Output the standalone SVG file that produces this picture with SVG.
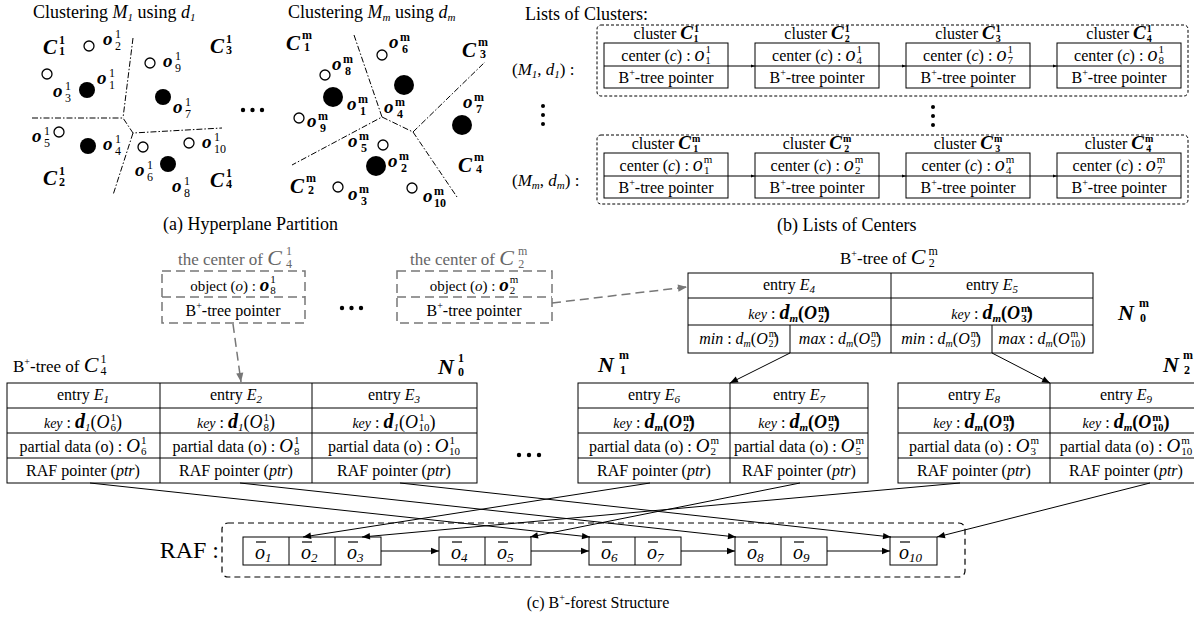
<svg xmlns="http://www.w3.org/2000/svg" width="1194" height="618" viewBox="0 0 1194 618">
<defs>
<marker id="ah" viewBox="0 0 10 10" refX="10" refY="5" markerWidth="9" markerHeight="8" markerUnits="userSpaceOnUse" orient="auto"><path d="M0,1 L10,5 L0,9 z" fill="#000"/></marker>
<marker id="ahs" viewBox="0 0 10 10" refX="10" refY="5" markerWidth="5" markerHeight="4" markerUnits="userSpaceOnUse" orient="auto"><path d="M0,1 L10,5 L0,9 z" fill="#000"/></marker>
<marker id="ahg" viewBox="0 0 10 10" refX="10" refY="5" markerWidth="10" markerHeight="9" markerUnits="userSpaceOnUse" orient="auto"><path d="M0,1 L10,5 L0,9 z" fill="#777"/></marker>
</defs>
<style>
text{font-family:"Liberation Serif","Times New Roman",serif;fill:#000}
.dd{fill:none;stroke:#000;stroke-width:1;stroke-dasharray:6 2 1.5 2}
.ob{font-size:19px;font-weight:bold;font-style:italic}
.sp{font-size:12px}
.spb{font-size:12px;font-weight:bold}
.cl{font-size:21px;font-weight:bold;font-style:italic}
.oc{fill:#fff;stroke:#000;stroke-width:1.3}
.fc{fill:#000}
.box{fill:#fff;stroke:#000;stroke-width:1}
.ln{stroke:#000;stroke-width:1;fill:none}
.db{fill:none;stroke:#000;stroke-width:1;stroke-dasharray:3 2}
.gb{fill:none;stroke:#777;stroke-width:1.5;stroke-dasharray:9 5}
.g{fill:#666}
.it{font-style:italic}
.bi{font-style:italic;font-weight:bold}
.t16{font-size:16px}
.mid{text-anchor:middle}
</style>

<!-- ===== (a) Hyperplane partition ===== -->
<g id="clusteringM1">
<text x="33" y="18" font-size="18">Clustering <tspan class="it">M</tspan><tspan class="it" font-size="11" dy="3">1</tspan><tspan dy="-3"> using </tspan><tspan class="it">d</tspan><tspan class="it" font-size="11" dy="3">1</tspan></text>
<polyline class="dd" points="133,38 123,118"/>
<polyline class="dd" points="32,118 123,118 133,133 222,128"/>
<polyline class="dd" points="133,133 113,195"/>
<circle class="oc" cx="89" cy="46" r="5"/>
<circle class="oc" cx="47" cy="74" r="5"/>
<circle class="oc" cx="150" cy="63" r="5"/>
<circle class="oc" cx="59" cy="132" r="5"/>
<circle class="oc" cx="143" cy="147" r="5"/>
<circle class="oc" cx="189" cy="143" r="5"/>
<circle class="fc" cx="87" cy="90" r="8"/>
<circle class="fc" cx="163" cy="97" r="8"/>
<circle class="fc" cx="88" cy="146" r="8"/>
<circle class="fc" cx="168" cy="164" r="8"/>
<text class="cl" x="43" y="54">C</text><text class="spb" x="59" y="44">1</text><text class="spb" x="59" y="55">1</text>
<text class="cl" x="43" y="185">C</text><text class="spb" x="59" y="175">1</text><text class="spb" x="59" y="186">2</text>
<text class="cl" x="210" y="53">C</text><text class="spb" x="226" y="43">1</text><text class="spb" x="226" y="54">3</text>
<text class="cl" x="210" y="187">C</text><text class="spb" x="226" y="177">1</text><text class="spb" x="226" y="188">4</text>
<text class="ob" x="103" y="45">o</text><text class="sp" x="115" y="38">1</text><text class="sp" x="115" y="50">2</text>
<text class="ob" x="53" y="97">o</text><text class="sp" x="65" y="90">1</text><text class="sp" x="65" y="102">3</text>
<text class="ob" x="97" y="84">o</text><text class="sp" x="109" y="77">1</text><text class="sp" x="109" y="89">1</text>
<text class="ob" x="163" y="67">o</text><text class="sp" x="175" y="60">1</text><text class="sp" x="175" y="72">9</text>
<text class="ob" x="173" y="113">o</text><text class="sp" x="185" y="106">1</text><text class="sp" x="185" y="118">7</text>
<text class="ob" x="32" y="142">o</text><text class="sp" x="44" y="135">1</text><text class="sp" x="44" y="147">5</text>
<text class="ob" x="103" y="150">o</text><text class="sp" x="115" y="143">1</text><text class="sp" x="115" y="155">4</text>
<text class="ob" x="135" y="176">o</text><text class="sp" x="147" y="169">1</text><text class="sp" x="147" y="181">6</text>
<text class="ob" x="172" y="192">o</text><text class="sp" x="184" y="185">1</text><text class="sp" x="184" y="197">8</text>
<text class="ob" x="202" y="148">o</text><text class="sp" x="214" y="141">1</text><text class="sp" x="214" y="153">10</text>
</g>
<g id="dotsA"><circle cx="243" cy="110" r="2.2"/><circle cx="252.5" cy="110" r="2.2"/><circle cx="262" cy="110" r="2.2"/></g>
<g id="clusteringMm">
<text x="288" y="18" font-size="18">Clustering <tspan class="it">M</tspan><tspan class="it" font-size="11" dy="3">m</tspan><tspan dy="-3"> using </tspan><tspan class="it">d</tspan><tspan class="it" font-size="11" dy="3">m</tspan></text>
<polyline class="dd" points="354,35 382,117 292,165"/>
<polyline class="dd" points="382,117 413,132 485,62"/>
<polyline class="dd" points="413,132 457,197"/>
<circle class="oc" cx="325" cy="75" r="5"/>
<circle class="oc" cx="299" cy="118" r="5"/>
<circle class="oc" cx="382" cy="55" r="5"/>
<circle class="oc" cx="383" cy="145" r="5"/>
<circle class="oc" cx="338" cy="187" r="5"/>
<circle class="oc" cx="412" cy="188" r="5"/>
<circle class="fc" cx="333" cy="97" r="10"/>
<circle class="fc" cx="404" cy="85" r="10"/>
<circle class="fc" cx="462" cy="125" r="10"/>
<circle class="fc" cx="376" cy="166" r="10"/>
<text class="cl" x="286" y="50">C</text><text class="spb" x="302" y="39">m</text><text class="spb" x="304" y="51">1</text>
<text class="cl" x="290" y="193">C</text><text class="spb" x="306" y="182">m</text><text class="spb" x="308" y="194">2</text>
<text class="cl" x="462" y="57">C</text><text class="spb" x="478" y="46">m</text><text class="spb" x="480" y="58">3</text>
<text class="cl" x="458" y="172">C</text><text class="spb" x="474" y="161">m</text><text class="spb" x="476" y="173">4</text>
<text class="ob" x="389" y="48">o</text><text class="spb" x="400" y="41">m</text><text class="spb" x="402" y="53">6</text>
<text class="ob" x="332" y="70">o</text><text class="spb" x="343" y="63">m</text><text class="spb" x="345" y="75">8</text>
<text class="ob" x="347" y="110">o</text><text class="spb" x="358" y="103">m</text><text class="spb" x="360" y="115">1</text>
<text class="ob" x="307" y="127">o</text><text class="spb" x="318" y="120">m</text><text class="spb" x="320" y="132">9</text>
<text class="ob" x="348" y="147">o</text><text class="spb" x="359" y="140">m</text><text class="spb" x="361" y="152">5</text>
<text class="ob" x="348" y="200">o</text><text class="spb" x="359" y="193">m</text><text class="spb" x="361" y="205">3</text>
<text class="ob" x="384" y="113">o</text><text class="spb" x="395" y="106">m</text><text class="spb" x="397" y="118">4</text>
<text class="ob" x="463" y="108">o</text><text class="spb" x="474" y="101">m</text><text class="spb" x="476" y="113">7</text>
<text class="ob" x="388" y="167">o</text><text class="spb" x="399" y="160">m</text><text class="spb" x="401" y="172">2</text>
<text class="ob" x="423" y="202">o</text><text class="spb" x="434" y="195">m</text><text class="spb" x="434" y="207">10</text>
</g>
<text id="capA" x="163" y="230" font-size="18">(a)  Hyperplane Partition</text>

<!-- ===== (b) Lists of centers ===== -->
<g id="listsTitle"><text x="525" y="20" font-size="18">Lists of Clusters:</text></g>
<g id="list1">
<rect class="db" x="597" y="25" width="591" height="71" rx="4"/>
<text x="512" y="75" font-size="17">(<tspan class="it">M</tspan><tspan class="it" font-size="11" dy="3">1</tspan><tspan dy="-3">, </tspan><tspan class="it">d</tspan><tspan class="it" font-size="11" dy="3">1</tspan><tspan dy="-3">) :</tspan></text>
</g>
<g id="b11"><rect class="box" x="604" y="43" width="124" height="45"/><line class="ln" x1="604" y1="66" x2="728" y2="66"/>
<text class="t16 mid" x="666" y="39">cluster <tspan class="bi" font-size="19">C</tspan><tspan font-size="10" font-weight="bold" dx="1" dy="-7">1</tspan><tspan font-size="10" font-weight="bold" dx="-5" dy="10">1</tspan></text>
<text class="t16 mid" x="666" y="61">center (<tspan class="it">c</tspan>) :  <tspan class="it" font-size="20">o</tspan><tspan font-size="11" dx="1" dy="-8">1</tspan><tspan font-size="11" dx="-5.5" dy="11">1</tspan></text>
<text class="t16 mid" x="666" y="83">B<tspan font-size="10" dy="-7">+</tspan><tspan dy="7">-tree pointer</tspan></text></g>
<g id="b12"><rect class="box" x="755" y="43" width="124" height="45"/><line class="ln" x1="755" y1="66" x2="879" y2="66"/>
<text class="t16 mid" x="817" y="39">cluster <tspan class="bi" font-size="19">C</tspan><tspan font-size="10" font-weight="bold" dx="1" dy="-7">1</tspan><tspan font-size="10" font-weight="bold" dx="-5" dy="10">2</tspan></text>
<text class="t16 mid" x="817" y="61">center (<tspan class="it">c</tspan>) :  <tspan class="it" font-size="20">o</tspan><tspan font-size="11" dx="1" dy="-8">1</tspan><tspan font-size="11" dx="-5.5" dy="11">4</tspan></text>
<text class="t16 mid" x="817" y="83">B<tspan font-size="10" dy="-7">+</tspan><tspan dy="7">-tree pointer</tspan></text></g>
<g id="b13"><rect class="box" x="906" y="43" width="124" height="45"/><line class="ln" x1="906" y1="66" x2="1030" y2="66"/>
<text class="t16 mid" x="968" y="39">cluster <tspan class="bi" font-size="19">C</tspan><tspan font-size="10" font-weight="bold" dx="1" dy="-7">1</tspan><tspan font-size="10" font-weight="bold" dx="-5" dy="10">3</tspan></text>
<text class="t16 mid" x="968" y="61">center (<tspan class="it">c</tspan>) :  <tspan class="it" font-size="20">o</tspan><tspan font-size="11" dx="1" dy="-8">1</tspan><tspan font-size="11" dx="-5.5" dy="11">7</tspan></text>
<text class="t16 mid" x="968" y="83">B<tspan font-size="10" dy="-7">+</tspan><tspan dy="7">-tree pointer</tspan></text></g>
<g id="b14"><rect class="box" x="1057" y="43" width="124" height="45"/><line class="ln" x1="1057" y1="66" x2="1181" y2="66"/>
<text class="t16 mid" x="1119" y="39">cluster <tspan class="bi" font-size="19">C</tspan><tspan font-size="10" font-weight="bold" dx="1" dy="-7">1</tspan><tspan font-size="10" font-weight="bold" dx="-5" dy="10">4</tspan></text>
<text class="t16 mid" x="1119" y="61">center (<tspan class="it">c</tspan>) :  <tspan class="it" font-size="20">o</tspan><tspan font-size="11" dx="1" dy="-8">1</tspan><tspan font-size="11" dx="-5.5" dy="11">8</tspan></text>
<text class="t16 mid" x="1119" y="83">B<tspan font-size="10" dy="-7">+</tspan><tspan dy="7">-tree pointer</tspan></text></g>

<g id="vdots"><circle cx="543" cy="106" r="2"/><circle cx="543" cy="115" r="2"/><circle cx="543" cy="124" r="2"/>
<circle cx="933" cy="107" r="2"/><circle cx="933" cy="116" r="2"/><circle cx="933" cy="125" r="2"/></g>

<g id="listm">
<rect class="db" x="597" y="135" width="591" height="69" rx="4"/>
<text x="512" y="186" font-size="17">(<tspan class="it">M</tspan><tspan class="it" font-size="11" dy="3">m</tspan><tspan dy="-3">, </tspan><tspan class="it">d</tspan><tspan class="it" font-size="11" dy="3">m</tspan><tspan dy="-3">) :</tspan></text>
</g>
<g id="bm1"><rect class="box" x="604" y="153" width="124" height="45"/><line class="ln" x1="604" y1="176" x2="728" y2="176"/>
<text class="t16 mid" x="666" y="149">cluster <tspan class="bi" font-size="19">C</tspan><tspan font-size="10" font-weight="bold" dx="1" dy="-7">m</tspan><tspan font-size="10" font-weight="bold" dx="-7" dy="10">1</tspan></text>
<text class="t16 mid" x="666" y="171">center (<tspan class="it">c</tspan>) :  <tspan class="it" font-size="20">o</tspan><tspan font-size="11" dx="1" dy="-8">m</tspan><tspan font-size="11" dx="-8.5" dy="11">1</tspan></text>
<text class="t16 mid" x="666" y="193">B<tspan font-size="10" dy="-7">+</tspan><tspan dy="7">-tree pointer</tspan></text></g>
<g id="bm2"><rect class="box" x="755" y="153" width="124" height="45"/><line class="ln" x1="755" y1="176" x2="879" y2="176"/>
<text class="t16 mid" x="817" y="149">cluster <tspan class="bi" font-size="19">C</tspan><tspan font-size="10" font-weight="bold" dx="1" dy="-7">m</tspan><tspan font-size="10" font-weight="bold" dx="-7" dy="10">2</tspan></text>
<text class="t16 mid" x="817" y="171">center (<tspan class="it">c</tspan>) :  <tspan class="it" font-size="20">o</tspan><tspan font-size="11" dx="1" dy="-8">m</tspan><tspan font-size="11" dx="-8.5" dy="11">2</tspan></text>
<text class="t16 mid" x="817" y="193">B<tspan font-size="10" dy="-7">+</tspan><tspan dy="7">-tree pointer</tspan></text></g>
<g id="bm3"><rect class="box" x="906" y="153" width="124" height="45"/><line class="ln" x1="906" y1="176" x2="1030" y2="176"/>
<text class="t16 mid" x="968" y="149">cluster <tspan class="bi" font-size="19">C</tspan><tspan font-size="10" font-weight="bold" dx="1" dy="-7">m</tspan><tspan font-size="10" font-weight="bold" dx="-7" dy="10">3</tspan></text>
<text class="t16 mid" x="968" y="171">center (<tspan class="it">c</tspan>) :  <tspan class="it" font-size="20">o</tspan><tspan font-size="11" dx="1" dy="-8">m</tspan><tspan font-size="11" dx="-8.5" dy="11">4</tspan></text>
<text class="t16 mid" x="968" y="193">B<tspan font-size="10" dy="-7">+</tspan><tspan dy="7">-tree pointer</tspan></text></g>
<g id="bm4"><rect class="box" x="1057" y="153" width="124" height="45"/><line class="ln" x1="1057" y1="176" x2="1181" y2="176"/>
<text class="t16 mid" x="1119" y="149">cluster <tspan class="bi" font-size="19">C</tspan><tspan font-size="10" font-weight="bold" dx="1" dy="-7">m</tspan><tspan font-size="10" font-weight="bold" dx="-7" dy="10">4</tspan></text>
<text class="t16 mid" x="1119" y="171">center (<tspan class="it">c</tspan>) :  <tspan class="it" font-size="20">o</tspan><tspan font-size="11" dx="1" dy="-8">m</tspan><tspan font-size="11" dx="-8.5" dy="11">7</tspan></text>
<text class="t16 mid" x="1119" y="193">B<tspan font-size="10" dy="-7">+</tspan><tspan dy="7">-tree pointer</tspan></text></g>
<text id="capB" x="777" y="231" font-size="18">(b)  Lists of Centers</text>

<!-- ===== (c) B+-forest ===== -->
<g id="centerC14">
<text class="g" x="178" y="265" font-size="17">the center of  <tspan class="it" font-size="22">C</tspan><tspan font-size="12" dx="4" dy="-10">1</tspan><tspan font-size="12" dx="-6" dy="13">4</tspan></text>
<rect class="gb" x="162" y="271" width="143" height="52"/><line class="gb" x1="162" y1="297" x2="305" y2="297"/>
<text class="mid" x="233" y="291" font-size="15" fill="#555">object (<tspan class="it">o</tspan>) :  <tspan class="bi" font-size="19">o</tspan><tspan font-size="11" dx="1" dy="-8">1</tspan><tspan font-size="11" dx="-5.5" dy="11">8</tspan></text>
<text class="mid" x="233" y="316" font-size="16" fill="#555">B<tspan font-size="10" dy="-7">+</tspan><tspan dy="7">-tree pointer</tspan></text>
</g>
<g id="dotsC1"><circle cx="342" cy="308" r="2.2"/><circle cx="351.5" cy="308" r="2.2"/><circle cx="361" cy="308" r="2.2"/></g>
<g id="centerC2m">
<text class="g" x="410" y="265" font-size="17">the center of  <tspan class="it" font-size="22">C</tspan><tspan font-size="12" dx="4" dy="-10">m</tspan><tspan font-size="12" dx="-9" dy="13">2</tspan></text>
<rect class="gb" x="397" y="271" width="155" height="52"/><line class="gb" x1="397" y1="297" x2="552" y2="297"/>
<text class="mid" x="474" y="291" font-size="15" fill="#555">object (<tspan class="it">o</tspan>) :  <tspan class="bi" font-size="19">o</tspan><tspan font-size="11" dx="1" dy="-8">m</tspan><tspan font-size="11" dx="-8.5" dy="11">2</tspan></text>
<text class="mid" x="474" y="316" font-size="16" fill="#555">B<tspan font-size="10" dy="-7">+</tspan><tspan dy="7">-tree pointer</tspan></text>
</g>

<!-- Tree of C_4^1 -->
<g id="treeC14">
<text x="13" y="372" font-size="17">B<tspan font-size="10" dy="-7">+</tspan><tspan dy="7">-tree of  </tspan><tspan class="it" font-size="22">C</tspan><tspan font-size="12" dx="2" dy="-9">1</tspan><tspan font-size="12" dx="-6" dy="12">4</tspan></text>
<text class="bi" x="438" y="374" font-size="22">N</text><text class="spb" x="458" y="362">1</text><text class="spb" x="458" y="376">0</text>
<rect class="box" x="7" y="383" width="470" height="100"/>
<line class="ln" x1="7" y1="408" x2="477" y2="408"/><line class="ln" x1="7" y1="433" x2="477" y2="433"/><line class="ln" x1="7" y1="458" x2="477" y2="458"/>
<line class="ln" x1="160" y1="383" x2="160" y2="483"/><line class="ln" x1="312" y1="383" x2="312" y2="483"/>
<text class="t16 mid" x="83" y="400">entry <tspan class="it">E</tspan><tspan class="it" font-size="11" dy="3">1</tspan></text>
<text class="t16 mid" x="236" y="400">entry <tspan class="it">E</tspan><tspan class="it" font-size="11" dy="3">2</tspan></text>
<text class="t16 mid" x="394" y="400">entry <tspan class="it">E</tspan><tspan class="it" font-size="11" dy="3">3</tspan></text>
<text class="t16 mid" x="83" y="428"><tspan class="it" font-size="14">key</tspan> : <tspan class="bi" font-size="20">d</tspan><tspan class="it" font-size="11" dy="3">1</tspan><tspan font-size="18" dy="-3">(</tspan><tspan class="it" font-size="18">O</tspan><tspan font-size="11" dx="1" dy="-7">1</tspan><tspan font-size="11" dx="-5.5" dy="10">6</tspan><tspan font-size="18" dy="-3">)</tspan></text>
<text class="t16 mid" x="236" y="428"><tspan class="it" font-size="14">key</tspan> : <tspan class="bi" font-size="20">d</tspan><tspan class="it" font-size="11" dy="3">1</tspan><tspan font-size="18" dy="-3">(</tspan><tspan class="it" font-size="18">O</tspan><tspan font-size="11" dx="1" dy="-7">1</tspan><tspan font-size="11" dx="-5.5" dy="10">8</tspan><tspan font-size="18" dy="-3">)</tspan></text>
<text class="t16 mid" x="394" y="428"><tspan class="it" font-size="14">key</tspan> : <tspan class="bi" font-size="20">d</tspan><tspan class="it" font-size="11" dy="3">1</tspan><tspan font-size="18" dy="-3">(</tspan><tspan class="it" font-size="18">O</tspan><tspan font-size="11" dx="1" dy="-7">1</tspan><tspan font-size="11" dx="-5.5" dy="10">10</tspan><tspan font-size="18" dy="-3">)</tspan></text>
<text class="t16 mid" x="83" y="452">partial data (o) : <tspan class="it" font-size="19">O</tspan><tspan font-size="11" dx="1" dy="-8">1</tspan><tspan font-size="11" dx="-5.5" dy="11">6</tspan></text>
<text class="t16 mid" x="236" y="452">partial data (o) : <tspan class="it" font-size="19">O</tspan><tspan font-size="11" dx="1" dy="-8">1</tspan><tspan font-size="11" dx="-5.5" dy="11">8</tspan></text>
<text class="t16 mid" x="394" y="452">partial data (o) : <tspan class="it" font-size="19">O</tspan><tspan font-size="11" dx="1" dy="-8">1</tspan><tspan font-size="11" dx="-5.5" dy="11">10</tspan></text>
<text class="t16 mid" x="83" y="476">RAF pointer (<tspan class="it">ptr</tspan>)</text>
<text class="t16 mid" x="236" y="476">RAF pointer (<tspan class="it">ptr</tspan>)</text>
<text class="t16 mid" x="394" y="476">RAF pointer (<tspan class="it">ptr</tspan>)</text>
</g>
<g id="dotsC2"><circle cx="519" cy="455" r="2.2"/><circle cx="529" cy="455" r="2.2"/><circle cx="539" cy="455" r="2.2"/></g>

<!-- Tree of C_2^m root -->
<g id="rootN0m">
<text x="840" y="264" font-size="17">B<tspan font-size="10" dy="-7">+</tspan><tspan dy="7">-tree of  </tspan><tspan class="it" font-size="22">C</tspan><tspan font-size="12" dx="3" dy="-9">m</tspan><tspan font-size="12" dx="-9" dy="12">2</tspan></text>
<text class="bi" x="1118" y="320" font-size="22">N</text><text class="spb" x="1139" y="307">m</text><text class="spb" x="1140" y="322">0</text>
<rect class="box" x="688" y="273" width="405" height="80"/>
<line class="ln" x1="688" y1="298" x2="1093" y2="298"/><line class="ln" x1="688" y1="325" x2="1093" y2="325"/>
<line class="ln" x1="891" y1="273" x2="891" y2="353"/><line class="ln" x1="790" y1="325" x2="790" y2="353"/><line class="ln" x1="992" y1="325" x2="992" y2="353"/>
<text class="t16 mid" x="789" y="290">entry <tspan class="it">E</tspan><tspan class="it" font-size="11" dy="3">4</tspan></text>
<text class="t16 mid" x="992" y="290">entry <tspan class="it">E</tspan><tspan class="it" font-size="11" dy="3">5</tspan></text>
<text class="t16 mid" x="789" y="319"><tspan class="it" font-size="14">key</tspan> : <tspan class="bi" font-size="20">d</tspan><tspan class="bi" font-size="11" dy="3">m</tspan><tspan font-size="18" font-weight="bold" dy="-3">(</tspan><tspan class="bi" font-size="18">O</tspan><tspan font-size="11" font-weight="bold" dx="1" dy="-7">m</tspan><tspan font-size="11" font-weight="bold" dx="-9" dy="10">2</tspan><tspan font-size="18" font-weight="bold" dy="-3">)</tspan></text>
<text class="t16 mid" x="992" y="319"><tspan class="it" font-size="14">key</tspan> : <tspan class="bi" font-size="20">d</tspan><tspan class="bi" font-size="11" dy="3">m</tspan><tspan font-size="18" font-weight="bold" dy="-3">(</tspan><tspan class="bi" font-size="18">O</tspan><tspan font-size="11" font-weight="bold" dx="1" dy="-7">m</tspan><tspan font-size="11" font-weight="bold" dx="-9" dy="10">3</tspan><tspan font-size="18" font-weight="bold" dy="-3">)</tspan></text>
<text class="mid" x="739" y="344" font-size="16"><tspan class="it">min</tspan> : <tspan class="it">d</tspan><tspan class="it" font-size="10" dy="3">m</tspan><tspan dy="-3">(</tspan><tspan class="it">O</tspan><tspan font-size="10" dx="1" dy="-7">m</tspan><tspan font-size="10" dx="-8" dy="10">2</tspan><tspan dy="-3">)</tspan></text>
<text class="mid" x="840" y="344" font-size="16"><tspan class="it">max</tspan> : <tspan class="it">d</tspan><tspan class="it" font-size="10" dy="3">m</tspan><tspan dy="-3">(</tspan><tspan class="it">O</tspan><tspan font-size="10" dx="1" dy="-7">m</tspan><tspan font-size="10" dx="-8" dy="10">5</tspan><tspan dy="-3">)</tspan></text>
<text class="mid" x="941" y="344" font-size="16"><tspan class="it">min</tspan> : <tspan class="it">d</tspan><tspan class="it" font-size="10" dy="3">m</tspan><tspan dy="-3">(</tspan><tspan class="it">O</tspan><tspan font-size="10" dx="1" dy="-7">m</tspan><tspan font-size="10" dx="-8" dy="10">3</tspan><tspan dy="-3">)</tspan></text>
<text class="mid" x="1042" y="344" font-size="16"><tspan class="it">max</tspan> : <tspan class="it">d</tspan><tspan class="it" font-size="10" dy="3">m</tspan><tspan dy="-3">(</tspan><tspan class="it">O</tspan><tspan font-size="10" dx="1" dy="-7">m</tspan><tspan font-size="10" dx="-8" dy="10">10</tspan><tspan dy="-3">)</tspan></text>
</g>

<g id="leafN1m">
<text class="bi" x="598" y="372" font-size="22">N</text><text class="spb" x="619" y="359">m</text><text class="spb" x="620" y="374">1</text>
<rect class="box" x="578" y="383" width="290" height="100"/>
<line class="ln" x1="578" y1="408" x2="868" y2="408"/><line class="ln" x1="578" y1="433" x2="868" y2="433"/><line class="ln" x1="578" y1="458" x2="868" y2="458"/>
<line class="ln" x1="730" y1="383" x2="730" y2="483"/>
<text class="t16 mid" x="654" y="400">entry <tspan class="it">E</tspan><tspan class="it" font-size="11" dy="3">6</tspan></text>
<text class="t16 mid" x="799" y="400">entry <tspan class="it">E</tspan><tspan class="it" font-size="11" dy="3">7</tspan></text>
<text class="t16 mid" x="654" y="428"><tspan class="it" font-size="14">key</tspan> : <tspan class="bi" font-size="20">d</tspan><tspan class="bi" font-size="11" dy="3">m</tspan><tspan font-size="18" font-weight="bold" dy="-3">(</tspan><tspan class="bi" font-size="18">O</tspan><tspan font-size="11" font-weight="bold" dx="1" dy="-7">m</tspan><tspan font-size="11" font-weight="bold" dx="-9" dy="10">2</tspan><tspan font-size="18" font-weight="bold" dy="-3">)</tspan></text>
<text class="t16 mid" x="799" y="428"><tspan class="it" font-size="14">key</tspan> : <tspan class="bi" font-size="20">d</tspan><tspan class="bi" font-size="11" dy="3">m</tspan><tspan font-size="18" font-weight="bold" dy="-3">(</tspan><tspan class="bi" font-size="18">O</tspan><tspan font-size="11" font-weight="bold" dx="1" dy="-7">m</tspan><tspan font-size="11" font-weight="bold" dx="-9" dy="10">5</tspan><tspan font-size="18" font-weight="bold" dy="-3">)</tspan></text>
<text class="t16 mid" x="654" y="452">partial data (o) : <tspan class="it" font-size="19">O</tspan><tspan font-size="11" dx="1" dy="-8">m</tspan><tspan font-size="11" dx="-8.5" dy="11">2</tspan></text>
<text class="t16 mid" x="799" y="452">partial data (o) : <tspan class="it" font-size="19">O</tspan><tspan font-size="11" dx="1" dy="-8">m</tspan><tspan font-size="11" dx="-8.5" dy="11">5</tspan></text>
<text class="t16 mid" x="654" y="476">RAF pointer (<tspan class="it">ptr</tspan>)</text>
<text class="t16 mid" x="799" y="476">RAF pointer (<tspan class="it">ptr</tspan>)</text>
</g>

<g id="leafN2m">
<text class="bi" x="1163" y="372" font-size="22">N</text><text class="spb" x="1183" y="359">m</text><text class="spb" x="1184" y="374">2</text>
<rect class="box" x="898" y="383" width="304" height="100"/>
<line class="ln" x1="898" y1="408" x2="1202" y2="408"/><line class="ln" x1="898" y1="433" x2="1202" y2="433"/><line class="ln" x1="898" y1="458" x2="1202" y2="458"/>
<line class="ln" x1="1050" y1="383" x2="1050" y2="483"/>
<text class="t16 mid" x="974" y="400">entry <tspan class="it">E</tspan><tspan class="it" font-size="11" dy="3">8</tspan></text>
<text class="t16 mid" x="1126" y="400">entry <tspan class="it">E</tspan><tspan class="it" font-size="11" dy="3">9</tspan></text>
<text class="t16 mid" x="974" y="428"><tspan class="it" font-size="14">key</tspan> : <tspan class="bi" font-size="20">d</tspan><tspan class="bi" font-size="11" dy="3">m</tspan><tspan font-size="18" font-weight="bold" dy="-3">(</tspan><tspan class="bi" font-size="18">O</tspan><tspan font-size="11" font-weight="bold" dx="1" dy="-7">m</tspan><tspan font-size="11" font-weight="bold" dx="-9" dy="10">3</tspan><tspan font-size="18" font-weight="bold" dy="-3">)</tspan></text>
<text class="t16 mid" x="1126" y="428"><tspan class="it" font-size="14">key</tspan> : <tspan class="bi" font-size="20">d</tspan><tspan class="bi" font-size="11" dy="3">m</tspan><tspan font-size="18" font-weight="bold" dy="-3">(</tspan><tspan class="bi" font-size="18">O</tspan><tspan font-size="11" font-weight="bold" dx="1" dy="-7">m</tspan><tspan font-size="11" font-weight="bold" dx="-9" dy="10">10</tspan><tspan font-size="18" font-weight="bold" dy="-3">)</tspan></text>
<text class="t16 mid" x="974" y="452">partial data (o) : <tspan class="it" font-size="19">O</tspan><tspan font-size="11" dx="1" dy="-8">m</tspan><tspan font-size="11" dx="-8.5" dy="11">3</tspan></text>
<text class="t16 mid" x="1126" y="452">partial data (o) : <tspan class="it" font-size="19">O</tspan><tspan font-size="11" dx="1" dy="-8">m</tspan><tspan font-size="11" dx="-8.5" dy="11">10</tspan></text>
<text class="t16 mid" x="974" y="476">RAF pointer (<tspan class="it">ptr</tspan>)</text>
<text class="t16 mid" x="1126" y="476">RAF pointer (<tspan class="it">ptr</tspan>)</text>
</g>

<!-- RAF -->
<g id="raf">
<text x="219" y="558" font-size="24" text-anchor="end">RAF :</text>
<rect x="222" y="523" width="743" height="54" rx="6" fill="none" stroke="#000" stroke-width="1.2" stroke-dasharray="6 4"/>
<rect class="box" x="243" y="537" width="138" height="28"/><line class="ln" x1="289" y1="537" x2="289" y2="565"/><line class="ln" x1="335" y1="537" x2="335" y2="565"/>
<rect class="box" x="439" y="537" width="92" height="28"/><line class="ln" x1="485" y1="537" x2="485" y2="565"/>
<rect class="box" x="589" y="537" width="92" height="28"/><line class="ln" x1="635" y1="537" x2="635" y2="565"/>
<rect class="box" x="735" y="537" width="92" height="28"/><line class="ln" x1="781" y1="537" x2="781" y2="565"/>
<rect class="box" x="890" y="537" width="47" height="28"/>
<g stroke="#000" stroke-width="1.2">
<line x1="256" y1="542" x2="266" y2="542"/><line x1="302" y1="542" x2="312" y2="542"/><line x1="348" y1="542" x2="358" y2="542"/>
<line x1="452" y1="542" x2="462" y2="542"/><line x1="498" y1="542" x2="508" y2="542"/>
<line x1="602" y1="542" x2="612" y2="542"/><line x1="648" y1="542" x2="658" y2="542"/>
<line x1="748" y1="542" x2="758" y2="542"/><line x1="794" y1="542" x2="804" y2="542"/>
<line x1="900" y1="542" x2="910" y2="542"/>
</g>
<text class="it" font-size="20" x="255" y="559">o<tspan font-size="13" dy="3">1</tspan></text>
<text class="it" font-size="20" x="301" y="559">o<tspan font-size="13" dy="3">2</tspan></text>
<text class="it" font-size="20" x="347" y="559">o<tspan font-size="13" dy="3">3</tspan></text>
<text class="it" font-size="20" x="451" y="559">o<tspan font-size="13" dy="3">4</tspan></text>
<text class="it" font-size="20" x="497" y="559">o<tspan font-size="13" dy="3">5</tspan></text>
<text class="it" font-size="20" x="601" y="559">o<tspan font-size="13" dy="3">6</tspan></text>
<text class="it" font-size="20" x="647" y="559">o<tspan font-size="13" dy="3">7</tspan></text>
<text class="it" font-size="20" x="747" y="559">o<tspan font-size="13" dy="3">8</tspan></text>
<text class="it" font-size="20" x="793" y="559">o<tspan font-size="13" dy="3">9</tspan></text>
<text class="it" font-size="20" x="899" y="559">o<tspan font-size="13" dy="3">10</tspan></text>
</g>

<!-- connectors -->
<g id="connectors">
<line class="ln" x1="728" y1="66" x2="755" y2="66" marker-end="url(#ahs)"/>
<line class="ln" x1="879" y1="66" x2="906" y2="66" marker-end="url(#ahs)"/>
<line class="ln" x1="1030" y1="66" x2="1057" y2="66" marker-end="url(#ahs)"/>
<line class="ln" x1="728" y1="176" x2="755" y2="176" marker-end="url(#ahs)"/>
<line class="ln" x1="879" y1="176" x2="906" y2="176" marker-end="url(#ahs)"/>
<line class="ln" x1="1030" y1="176" x2="1057" y2="176" marker-end="url(#ahs)"/>
<line x1="233" y1="324" x2="241" y2="382" stroke="#777" stroke-width="1.5" stroke-dasharray="9 5" marker-end="url(#ahg)"/>
<line x1="552" y1="303" x2="687" y2="287" stroke="#777" stroke-width="1.5" stroke-dasharray="9 5" marker-end="url(#ahg)"/>
<line class="ln" x1="790" y1="353" x2="730" y2="383" marker-end="url(#ah)"/>
<line class="ln" x1="992" y1="353" x2="1050" y2="383" marker-end="url(#ah)"/>
<line class="ln" x1="381" y1="551" x2="439" y2="551" marker-end="url(#ah)"/>
<line class="ln" x1="531" y1="551" x2="589" y2="551" marker-end="url(#ah)"/>
<line class="ln" x1="681" y1="551" x2="735" y2="551" marker-end="url(#ah)"/>
<line class="ln" x1="827" y1="551" x2="890" y2="551" marker-end="url(#ah)"/>
<line class="ln" x1="90" y1="483" x2="590" y2="537" marker-end="url(#ah)"/>
<line class="ln" x1="240" y1="483" x2="736" y2="537" marker-end="url(#ah)"/>
<line class="ln" x1="400" y1="483" x2="891" y2="537" marker-end="url(#ah)"/>
<line class="ln" x1="650" y1="483" x2="303" y2="537" marker-end="url(#ah)"/>
<line class="ln" x1="800" y1="483" x2="530" y2="537" marker-end="url(#ah)"/>
<line class="ln" x1="960" y1="483" x2="362" y2="537" marker-end="url(#ah)"/>
<line class="ln" x1="1150" y1="483" x2="937" y2="537" marker-end="url(#ah)"/>
</g>
<text id="capC" class="mid" x="598" y="608" font-size="16">(c)  B<tspan font-size="10" dy="-7">+</tspan><tspan dy="7">-forest Structure</tspan></text>
</svg>
